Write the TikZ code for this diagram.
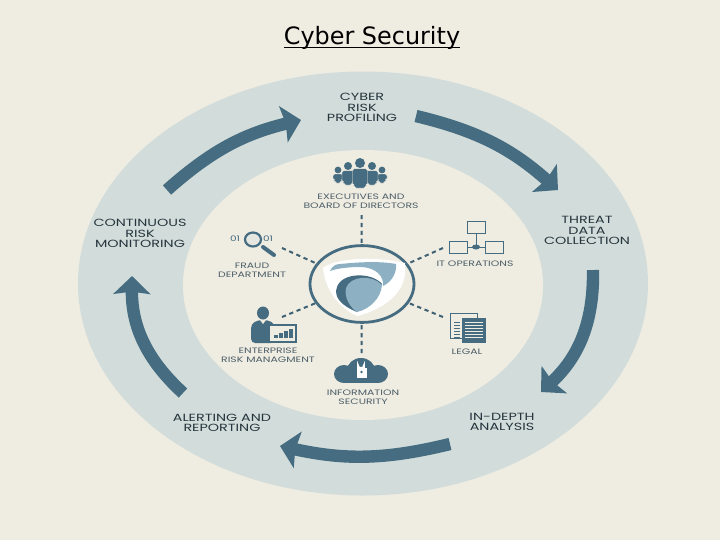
\documentclass[tikz,border=0pt]{standalone}
\usepackage{fontspec}
\setmainfont{DejaVu Sans}
\newfontfamily\capfont[FakeStretch=1.38]{Poppins}
\usetikzlibrary{arrows.meta,shapes.geometric}
\definecolor{bgcol}{HTML}{EFECE2}
\definecolor{ringcol}{HTML}{D2DDDB}
\definecolor{deep}{HTML}{456C80}
\definecolor{pale}{HTML}{8DB1C3}
\definecolor{ink}{HTML}{27363E}
\definecolor{soft}{HTML}{4E6069}
\tikzset{
  steplbl/.style={font=\capfont\fontsize{7.4}{7.5}\selectfont,text=ink,align=center,inner sep=0pt},
  teamlbl/.style={font=\capfont\fontsize{5.6}{6.5}\selectfont,text=soft,align=center,inner sep=0pt},
  ringar/.style={draw=deep,line width=0.31cm,-{Stealth[length=0.45cm,width=0.92cm,inset=0.06cm]}},
  dotline/.style={draw=deep!90!black,line width=0.05cm,dash pattern=on 3pt off 2.6pt},
  ico/.style={fill=deep,draw=none},
  hub/.style={ellipse,draw=deep,line width=0.07cm,fill=bgcol,minimum width=2.6cm,minimum height=1.92cm,inner sep=0pt},
}
\begin{document}
\begin{tikzpicture}[x=0.025cm,y=-0.025cm]
  \useasboundingbox (0,0) rectangle (720,540);
  \fill[bgcol] (0,0) rectangle (720,540);
  \fill[ringcol] (363,283.5) ellipse [x radius=285,y radius=212];
  \fill[bgcol] (363,285) ellipse [x radius=180,y radius=135];
  \node[inner sep=0pt] (title) at (372,38) {\fontsize{17}{20}\selectfont Cyber Security};
  \draw[line width=0.045cm] (284,47.5) -- (460,47.5);

  % outer cycle
  \node[steplbl] (profiling) at (362,107.5) {CYBER\\RISK\\PROFILING};
  \node[steplbl] (threat) at (587,230.5) {THREAT\\DATA\\COLLECTION};
  \node[steplbl] (analysis) at (502,422) {IN-DEPTH\\ANALYSIS};
  \node[steplbl] (alerting) at (222,423) {ALERTING AND\\REPORTING};
  \node[steplbl] (monitoring) at (140,233.5) {CONTINUOUS\\RISK\\MONITORING};
  \coordinate (a1) at (167,190);
  \coordinate (b1) at (301,120);
  \coordinate (a2) at (416,116);
  \coordinate (b2) at (558,190);
  \coordinate (a3) at (593,270);
  \coordinate (b3) at (541,392);
  \coordinate (a4) at (450,444);
  \coordinate (b4) at (280,446);
  \coordinate (a5) at (183,393);
  \coordinate (b5) at (132,276);
  \draw[ringar] (a1) to[bend left=14] (b1);
  \draw[ringar] (a2) to[bend left=14] (b2);
  \draw[ringar] (a3) to[bend left=24] (b3);
  \draw[ringar] (a4) to[bend left=13] (b4);
  \draw[ringar] (a5) to[bend left=24] (b5);

  % hub
  \node[hub] (shield) at (362,284) {};
  \fill[white] (323,268) .. controls (335,258) and (375,256) .. (405,263)
    .. controls (408,285) and (395,305) .. (358,316)
    .. controls (340,310) and (325,290) .. (323,268) -- cycle;
  \fill[pale] (330,271) .. controls (332,266) and (336,264) .. (340,264)
    .. controls (360,262) and (380,261) .. (396,264)
    .. controls (397,272) and (392,282) .. (383,286)
    .. controls (384,276) and (376,268) .. (362,267)
    .. controls (350,267) and (338,268) .. (330,271) -- cycle;
  \fill[deep] (382,284) .. controls (372,272) and (342,272) .. (337,287)
    .. controls (333,297) and (342,306) .. (357,312) -- cycle;
  \fill[pale] (382,285) .. controls (372,274) and (350,276) .. (346,288)
    .. controls (344,298) and (350,307) .. (357,312)
    .. controls (370,309) and (381,298) .. (382,285) -- cycle;

  % teams
  \node[teamlbl] (board) at (361,201) {EXECUTIVES AND\\BOARD OF DIRECTORS};
  \node[teamlbl] (itops) at (475,264) {IT OPERATIONS};
  \node[teamlbl] (fraud) at (252,270.5) {FRAUD\\DEPARTMENT};
  \node[teamlbl] (erm) at (268,355.5) {ENTERPRISE\\RISK MANAGMENT};
  \node[teamlbl] (legal) at (467,352) {LEGAL};
  \node[teamlbl] (infosec) at (363,397) {INFORMATION\\SECURITY};
  \coordinate (d1) at (361.5,215);
  \coordinate (d2) at (443,248);
  \coordinate (d3) at (443,317);
  \coordinate (d4) at (361.5,353);
  \coordinate (d5) at (282,317);
  \coordinate (d6) at (282,248);
  \draw[dotline] (d1) -- (shield);
  \draw[dotline] (d2) -- (shield);
  \draw[dotline] (d3) -- (shield);
  \draw[dotline] (d4) -- (shield);
  \draw[dotline] (d5) -- (shield);
  \draw[dotline] (d6) -- (shield);

  % board of directors
  \foreach \px/\py/\pr/\pw/\pb in {338/170/3.4/5/183,382/170/3.4/5/183,348/166/4/6/185,372/166/4/6/185,360/163/5/7.5/188}{
    \fill[ico] (\px,\py) ellipse [x radius=\pr,y radius=\pr];
    \fill[ico,draw=bgcol,line width=0.3pt,rounded corners=1.2pt] (\px-\pw,\pb-3) -- (\px-\pw,\py+\pr+0.6) -- (\px+\pw,\py+\pr+0.6) -- (\px+\pw,\pb-3) -- (\px+\pw-2,\pb-3) -- (\px+\pw-2,\pb) -- (\px-\pw+2,\pb) -- (\px-\pw+2,\pb-3) -- cycle;
  }

  % fraud
  \node[inner sep=0pt,text=deep,font=\capfont\fontsize{5.4}{5}\selectfont] (bits) at (235,239) {01};
  \node[inner sep=0pt,text=deep,font=\capfont\fontsize{5.4}{5}\selectfont] (bit) at (268,239) {01};
  \draw[deep,line width=0.055cm,fill=ringcol!30!bgcol] (253,239.5) ellipse [x radius=8,y radius=7];
  \draw[deep,line width=0.1cm,line cap=round] (263,247) -- (274,255);

  % it operations
  \draw[deep,line width=0.025cm] (467,221) rectangle (485,233);
  \draw[deep,line width=0.025cm] (449,241) rectangle (467,253);
  \draw[deep,line width=0.025cm] (485,241) rectangle (503,253);
  \draw[deep,line width=0.025cm] (476,233) -- (476,247) (467,247) -- (485,247);
  \fill[deep] (476,247) ellipse [x radius=4,y radius=2.5];

  % legal
  \draw[deep,line width=0.02cm,fill=bgcol] (450,313) rectangle (477,338);
  \fill[deep] (462,318) rectangle (486,343);
  \foreach \ly in {322,325,328,331,334,337}{
    \draw[bgcol,line width=0.02cm] (465,\ly) -- (483,\ly);
    \draw[deep,line width=0.02cm] (454,\ly) -- (460,\ly);
  }

  % enterprise risk
  \fill[deep] (263,313) ellipse [x radius=6,y radius=6.5];
  \fill[deep,rounded corners=3pt] (251,343) -- (251,324) -- (258,320) -- (268,320) -- (275,324) -- (275,343) -- cycle;
  \fill[bgcol] (263,324) -- (260,320) -- (266,320) -- cycle;
  \draw[deep,line width=0.06cm,fill=bgcol] (269,325) rectangle (296,342);
  \foreach \bx/\bh in {274/3,279/5,284/7,289/9}{
    \fill[deep] (\bx,338) rectangle (\bx+3.5,338-\bh);
  }

  % information security
  \fill[deep] (344,374) ellipse [x radius=10,y radius=9];
  \fill[deep] (361,370.5) ellipse [x radius=14,y radius=12.5];
  \fill[deep] (378,374) ellipse [x radius=10,y radius=9];
  \fill[deep] (344,374) rectangle (378,383);
  \draw[white,line width=0.04cm] (358,368) -- (358,365) arc (180:0:3 and 3) -- (364,368);
  \fill[white] (356.5,367.5) rectangle (366.5,378);
  \fill[deep] (361.5,372) circle [radius=1.4];
\end{tikzpicture}
\end{document}
